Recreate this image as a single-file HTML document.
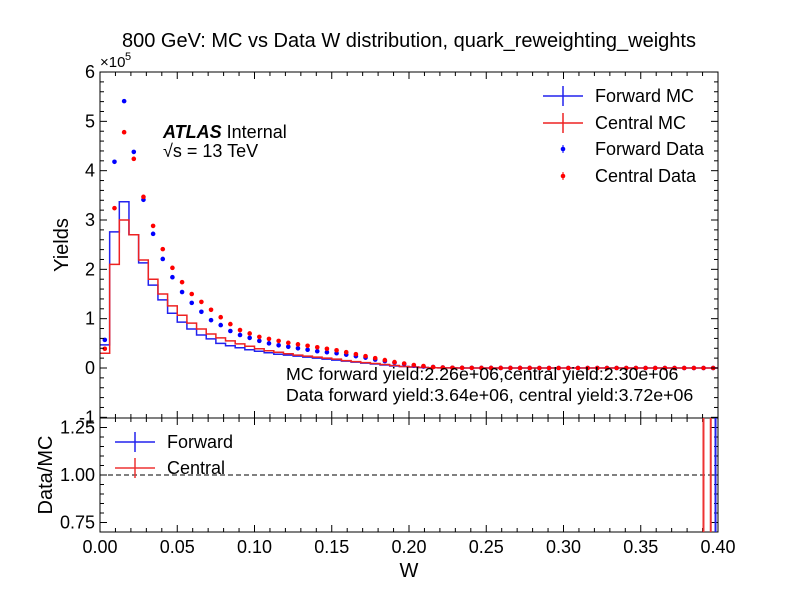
<!DOCTYPE html>
<html><head><meta charset="utf-8"><style>
body{margin:0;background:#fff;width:799px;height:599px;overflow:hidden}
svg{font-family:"Liberation Sans",sans-serif}
</style></head><body>
<svg id="c" width="799" height="599" xmlns="http://www.w3.org/2000/svg"></svg>
<script>
const binWidth=0.00625;
const fwdData=[0.57,4.18,5.41,4.38,3.41,2.72,2.21,1.84,1.54,1.32,1.14,0.97,0.87,0.75,0.67,0.61,0.55,0.50,0.46,0.43,0.40,0.37,0.34,0.32,0.30,0.27,0.24,0.21,0.17,0.14,0.11,0.08,0.05,0.03,0.02,0.01,0.005,0.003,0.002,0.001,0.001,0.001,0.001,0.001,0.001,0,0,0,0,0,0,0,0,0,0,0,0,0,0,0,0,0,0,0];
const cenData=[0.39,3.24,4.78,4.24,3.47,2.88,2.41,2.03,1.74,1.50,1.34,1.18,1.03,0.89,0.77,0.70,0.63,0.59,0.55,0.51,0.48,0.45,0.42,0.39,0.36,0.32,0.28,0.24,0.20,0.16,0.12,0.09,0.06,0.04,0.02,0.01,0.005,0.003,0.002,0.001,0.001,0.001,0.001,0.001,0.001,0,0,0,0,0,0,0,0,0,0,0,0,0,0,0,0,0,0,0];
const fwdMC=[0.47,2.76,3.37,2.70,2.13,1.68,1.38,1.11,0.93,0.79,0.67,0.59,0.50,0.45,0.41,0.37,0.34,0.31,0.28,0.26,0.24,0.22,0.20,0.18,0.16,0.14,0.12,0.10,0.08,0.06,0.04,0.03,0.02,0.01,0.005,0.003,0.002,0.001,0.001,0,0,0,0,0,0,0,0,0,0,0,0,0,0,0,0,0,0,0,0,0,0,0,0,0];
const cenMC=[0.30,2.10,3.00,2.70,2.19,1.80,1.50,1.26,1.07,0.91,0.79,0.69,0.61,0.55,0.49,0.44,0.39,0.35,0.32,0.29,0.26,0.24,0.22,0.20,0.18,0.15,0.13,0.11,0.09,0.07,0.05,0.03,0.02,0.01,0.005,0.003,0.002,0.001,0.001,0,0,0,0,0,0,0,0,0,0,0,0,0,0,0,0,0,0,0,0,0,0,0,0,0];
const ratioCenX=[0.3906,0.3953];
const ratioFwdX=[0.3984];
const xTicks=[0,0.05,0.1,0.15,0.2,0.25,0.3,0.35,0.4];
const xTickLabels=["0.00","0.05","0.10","0.15","0.20","0.25","0.30","0.35","0.40"];
const yTicks=[-1,0,1,2,3,4,5,6];
const rTicks=[0.75,1.0,1.25];
const rTickLabels=["0.75","1.00","1.25"];

const L=100,R=718,T=72,B=418,RB=532;
const X=v=>L+v/0.4*(R-L);
const Y=v=>368-v*49.33;
const RY=v=>475-(v-1)/0.25*47.5;
const svg=document.getElementById('c');const NS="http://www.w3.org/2000/svg";
function el(t,a,p){const e=document.createElementNS(NS,t);for(const k in a)e.setAttribute(k,a[k]);(p||svg).appendChild(e);return e;}
function txt(s,a){const e=el('text',a);e.textContent=s;return e;}

function step(vals,color,name){
  let d="M"+X(0)+","+Y(vals[0]);
  for(let i=0;i<vals.length;i++){d+=" L"+X(i*binWidth)+","+Y(vals[i])+" L"+X((i+1)*binWidth)+","+Y(vals[i]);}
  const p=el('path',{d:d,fill:'none',stroke:color,'stroke-width':1.5});
  
  
}
step(fwdMC,'#2222ee','forward-mc-line');
step(cenMC,'#ee2222','central-mc-line');
function pts(vals,color,name){
  const g=el('g',{});
  
  
  vals.forEach((v,i)=>{const c=el('circle',{cx:X((i+0.5)*binWidth),cy:Y(v),r:2.3,fill:color},g);
    
    });
}
pts(fwdData,'#0000ff','forward-data-points');
pts(cenData,'#ff0000','central-data-points');

el('rect',{x:L,y:T,width:R-L,height:B-T,fill:'none',stroke:'#000','stroke-width':1});
el('rect',{x:L,y:B,width:R-L,height:RB-B,fill:'none',stroke:'#000','stroke-width':1});
for(let i=0;i<=40;i++){const v=i*0.01,x=X(v),maj=i%5==0,l=maj?7:4;
  [T,B].forEach(y0=>{el('line',{x1:x,x2:x,y1:y0,y2:y0+l,stroke:'#000'});});
  [B,RB].forEach(y0=>{el('line',{x1:x,x2:x,y1:y0,y2:y0-l,stroke:'#000'});});
}
xTicks.forEach((v,i)=>txt(xTickLabels[i],{x:X(v),y:553,'font-size':18,'text-anchor':'middle'}));
for(let i=-5;i<=30;i++){const v=i*0.2,y=Y(v),maj=i%5==0,l=maj?7:4;
  el('line',{x1:L,x2:L+l,y1:y,y2:y,stroke:'#000'});el('line',{x1:R,x2:R-l,y1:y,y2:y,stroke:'#000'});}
yTicks.forEach(v=>txt(String(v),{x:95,y:Y(v)+6,'font-size':18,'text-anchor':'end'}));
txt('×10',{x:100,y:67,'font-size':15});txt('5',{x:125,y:60,'font-size':11});
for(let i=14;i<=26;i++){const v=i*0.05,y=RY(v),maj=(i%5==0),l=maj?7:4;
  el('line',{x1:L,x2:L+l,y1:y,y2:y,stroke:'#000'});el('line',{x1:R,x2:R-l,y1:y,y2:y,stroke:'#000'});}
rTicks.forEach((v,i)=>txt(rTickLabels[i],{x:95,y:RY(v)+6,'font-size':18,'text-anchor':'end'}));
el('line',{x1:L,x2:R,y1:RY(1),y2:RY(1),stroke:'#000','stroke-dasharray':'5,3'});
ratioCenX.forEach(v=>el('line',{x1:X(v),x2:X(v),y1:B,y2:RB,stroke:'#ee3333','stroke-width':2}));
ratioFwdX.forEach(v=>el('line',{x1:X(v),x2:X(v),y1:B,y2:RB,stroke:'#2222ee','stroke-width':2}));

txt('800 GeV: MC vs Data W distribution, quark_reweighting_weights',{x:409,y:47,'font-size':20,'text-anchor':'middle'});
txt('W',{x:409,y:577,'font-size':20,'text-anchor':'middle'});
txt('Yields',{x:68,y:245,'font-size':20,'text-anchor':'middle',transform:'rotate(-90 68 245)'});
txt('Data/MC',{x:52,y:475,'font-size':20,'text-anchor':'middle',transform:'rotate(-90 52 475)'});
const at=txt('',{x:163,y:138,'font-size':18});
at.innerHTML='<tspan font-weight="bold" font-style="italic">ATLAS</tspan> Internal';
txt('√s =  13 TeV',{x:163,y:157,'font-size':18});
txt('MC forward yield:2.26e+06,central yield:2.30e+06',{x:286,y:380,'font-size':17.8});
txt('Data forward yield:3.64e+06, central yield:3.72e+06',{x:286,y:401,'font-size':17.8});
function legLine(x,y,c,n,label){const g=el('g',{});
  el('line',{x1:x,x2:x+40,y1:y,y2:y,stroke:c,'stroke-width':1.5},g);el('line',{x1:x+20,x2:x+20,y1:y-10,y2:y+10,stroke:c,'stroke-width':1.5},g);
  const t=el('text',{x:x+52,y:y+6,'font-size':18},g);t.textContent=label;}
function legPt(x,y,c,n,label){const g=el('g',{});
  el('circle',{cx:x+20,cy:y,r:2.3,fill:c},g);el('line',{x1:x+20,x2:x+20,y1:y-4,y2:y+4,stroke:c},g);
  const t=el('text',{x:x+52,y:y+6,'font-size':18},g);t.textContent=label;}
legLine(543,96,'#2222ee','legend-forward-mc','Forward MC');
legLine(543,123,'#ee2222','legend-central-mc','Central MC');
legPt(543,149,'#0000ff','legend-forward-data','Forward Data');
legPt(543,176,'#ff0000','legend-central-data','Central Data');
legLine(115,442,'#2222ee','legend-ratio-forward','Forward');
legLine(115,468,'#ee3333','legend-ratio-central','Central');
</script>
</body></html>
